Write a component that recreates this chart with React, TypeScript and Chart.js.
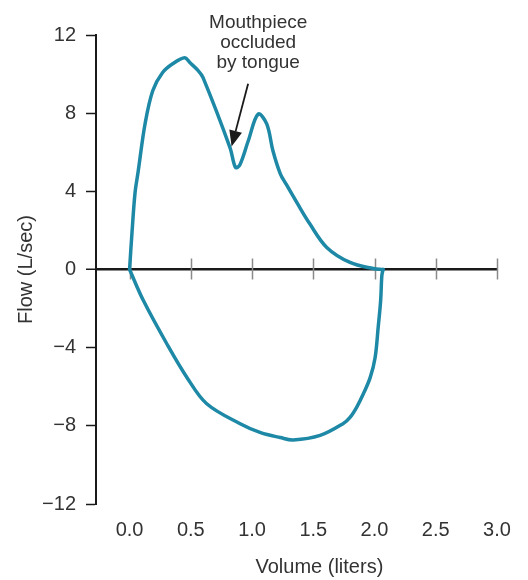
import React, { useEffect, useRef } from "react";
import { Chart, registerables } from "chart.js";

Chart.register(...registerables);

// Expiratory limb (volume in liters, flow in L/sec)
const expVolume = [0, 0.02, 0.045, 0.07, 0.127, 0.19, 0.27, 0.355, 0.45, 0.49, 0.56, 0.6, 0.82, 0.865, 0.9, 0.97, 1.05, 1.12, 1.17, 1.23, 1.28, 1.37, 1.47, 1.61, 1.8, 1.99, 2.07];
const expFlow = [0, 1.9, 3.94, 5.0, 7.47, 9.16, 10.08, 10.54, 10.84, 10.6, 10.18, 9.82, 6.24, 5.22, 5.35, 6.6, 7.95, 7.45, 6.09, 4.91, 4.35, 3.38, 2.35, 1.13, 0.36, 0.05, 0];

// Inspiratory limb
const inspVolume = [2.07, 2.06, 2.05, 2.03, 2.005, 1.965, 1.91, 1.855, 1.8, 1.745, 1.556, 1.336, 1.23, 1.07, 0.903, 0.63, 0.467, 0.304, 0.113, 0];
const inspFlow = [0, -0.3, -1.59, -2.95, -4.5, -5.52, -6.35, -7.04, -7.57, -7.88, -8.49, -8.72, -8.6, -8.35, -7.89, -6.87, -5.51, -3.8, -1.59, 0];

const xTickValues = [0, 0.5, 1.0, 1.5, 2.0, 2.5, 3.0];
const yTickValues = [-12, -8, -4, 0, 4, 8, 12];

const annotationLines = ["Mouthpiece", "occluded", "by tongue"];
// arrow from the label down to the dip in the curve
const arrowTail = { x: 0.968, y: 9.51 };
const arrowTip = { x: 0.833, y: 6.29 };

const FONT = "'Liberation Sans', Arial, Helvetica, sans-serif";
const TEXT = "#333333";
const LINE = "#1d89a6";

const zip = (xs: number[], ys: number[]) => xs.map((x, i) => ({ x, y: ys[i] }));

const fmtY = (v: number) => (v < 0 ? "\u2212" + Math.abs(v) : String(v));

const overlay = {
  id: "overlay",
  beforeDatasetsDraw(chart: any) {
    const { ctx, scales } = chart;
    const xs = scales.x;
    const y0 = scales.y.getPixelForValue(0);
    ctx.save();
    ctx.strokeStyle = "#8a8a8a";
    ctx.lineWidth = 1.5;
    xTickValues.forEach((v) => {
      const px = Math.round(xs.getPixelForValue(v)) + 0.5;
      ctx.beginPath();
      ctx.moveTo(px, y0 - 11);
      ctx.lineTo(px, y0 + 10);
      ctx.stroke();
    });
    ctx.restore();
  },
  afterDraw(chart: any) {
    const { ctx, scales } = chart;
    const xs = scales.x;
    const ys = scales.y;
    ctx.save();
    // annotation text
    ctx.fillStyle = TEXT;
    ctx.font = `19px ${FONT}`;
    ctx.textAlign = "center";
    ctx.textBaseline = "alphabetic";
    const tx = xs.getPixelForValue(1.05);
    annotationLines.forEach((t, i) => {
      ctx.fillText(t, tx, 28 + i * 20);
    });
    // arrow
    const x1 = xs.getPixelForValue(arrowTail.x);
    const y1 = ys.getPixelForValue(arrowTail.y);
    const x2 = xs.getPixelForValue(arrowTip.x);
    const y2 = ys.getPixelForValue(arrowTip.y);
    const ang = Math.atan2(y2 - y1, x2 - x1);
    const headLen = 16;
    const headHalf = 6.5;
    const bx = x2 - headLen * Math.cos(ang);
    const by = y2 - headLen * Math.sin(ang);
    ctx.strokeStyle = "#1a1a1a";
    ctx.fillStyle = "#1a1a1a";
    ctx.lineWidth = 1.8;
    ctx.beginPath();
    ctx.moveTo(x1, y1);
    ctx.lineTo(bx, by);
    ctx.stroke();
    ctx.beginPath();
    ctx.moveTo(x2, y2);
    ctx.lineTo(bx + headHalf * Math.sin(ang), by - headHalf * Math.cos(ang));
    ctx.lineTo(bx - headHalf * Math.sin(ang), by + headHalf * Math.cos(ang));
    ctx.closePath();
    ctx.fill();
    // x-axis title
    ctx.fillStyle = TEXT;
    ctx.font = `20px ${FONT}`;
    ctx.textAlign = "center";
    ctx.textBaseline = "alphabetic";
    ctx.fillText("Volume (liters)", xs.getPixelForValue(1.55), 573);
    ctx.restore();
  },
};

export default function App() {
  const canvasRef = useRef<HTMLCanvasElement>(null);

  useEffect(() => {
    if (!canvasRef.current) return;
    const chart = new Chart(canvasRef.current, {
      type: "scatter",
      data: {
        datasets: [
          {
            label: "Expiration",
            data: zip(expVolume, expFlow),
            showLine: true,
            borderColor: LINE,
            borderWidth: 3.5,
            pointRadius: 0,
            tension: 0.35,
            borderCapStyle: "round",
            borderJoinStyle: "round",
          },
          {
            label: "Inspiration",
            data: zip(inspVolume, inspFlow),
            showLine: true,
            borderColor: LINE,
            borderWidth: 3.5,
            pointRadius: 0,
            tension: 0.35,
            borderCapStyle: "round",
            borderJoinStyle: "round",
          },
        ],
      },
      options: {
        animation: false,
        responsive: false,
        devicePixelRatio: 1,
        layout: { padding: { top: 35, right: 31, bottom: 0, left: 0 } },
        plugins: { legend: { display: false }, tooltip: { enabled: false } },
        scales: {
          x: {
            type: "linear",
            position: "bottom",
            min: -0.274,
            max: 3.0,
            afterBuildTicks: (scale: any) => {
              scale.ticks = xTickValues.map((v) => ({ value: v }));
            },
            afterFit: (scale: any) => {
              scale.height = 76;
            },
            grid: { display: false, drawTicks: false },
            border: { display: false },
            ticks: {
              padding: 14,
              color: TEXT,
              font: { family: FONT, size: 20 },
              maxRotation: 0,
              callback: (v: any) => Number(v).toFixed(1),
            },
          },
          y: {
            type: "linear",
            min: -12,
            max: 12,
            afterBuildTicks: (scale: any) => {
              scale.ticks = yTickValues.map((v) => ({ value: v }));
            },
            afterFit: (scale: any) => {
              scale.width = 96;
            },
            border: { display: true, color: "#1a1a1a", width: 2 },
            grid: {
              drawOnChartArea: true,
              color: (c: any) => (c.tick && c.tick.value === 0 ? "#1a1a1a" : "rgba(0,0,0,0)"),
              lineWidth: (c: any) => (c.tick && c.tick.value === 0 ? 2.5 : 1),
              tickColor: "#1a1a1a",
              tickLength: 10,
              tickWidth: 1.5,
            },
            ticks: {
              padding: 10,
              color: TEXT,
              font: { family: FONT, size: 20 },
              callback: (v: any) => fmtY(Number(v)),
            },
            title: {
              display: true,
              text: "Flow (L/sec)",
              color: TEXT,
              font: { family: FONT, size: 20 },
              padding: { top: 14, bottom: 0 },
            },
          },
        },
      },
      plugins: [overlay],
    });
    return () => chart.destroy();
  }, []);

  return (
    <div style={{ position: "absolute", left: 0, top: 0, width: 528, height: 580, background: "#ffffff" }}>
      <canvas ref={canvasRef} width={528} height={580} />
    </div>
  );
}
